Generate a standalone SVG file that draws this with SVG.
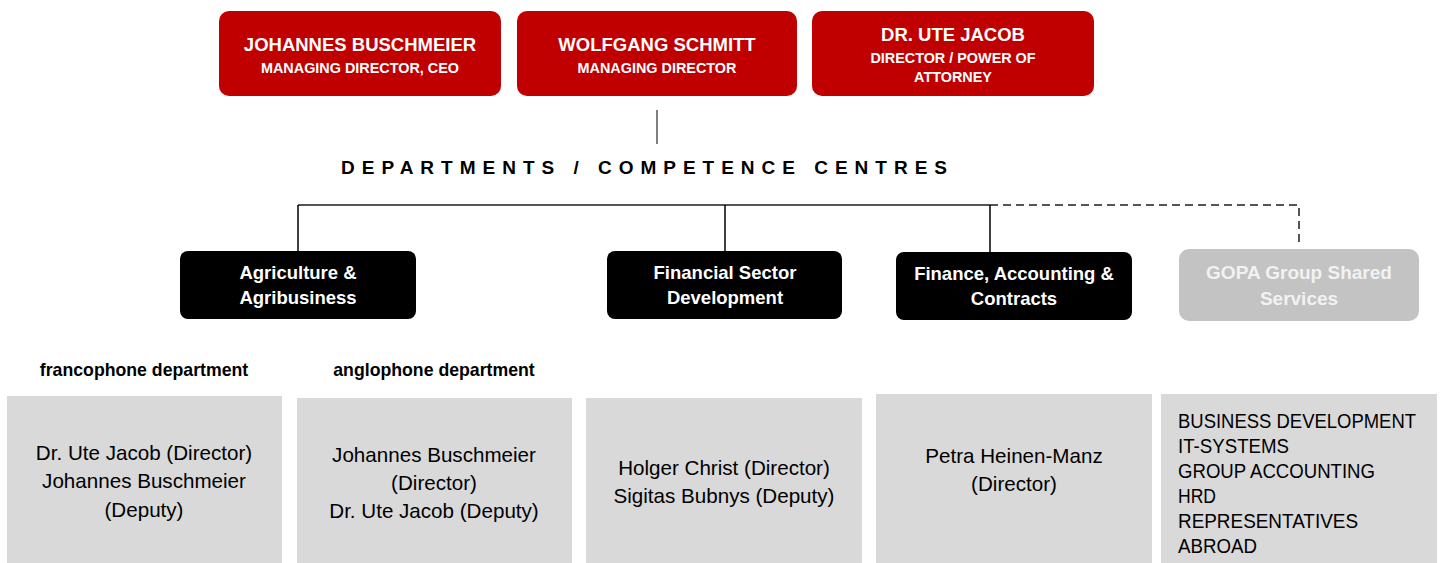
<svg xmlns="http://www.w3.org/2000/svg" width="1442" height="563" viewBox="0 0 1442 563">
  <style>
    text { font-family: "Liberation Sans", Arial, sans-serif; text-anchor: middle; }
    .mgmt rect { fill: #c00000; }
    .mgmt text { fill: #ffffff; font-weight: bold; }
    .name { font-size: 18.5px; }
    .role { font-size: 14.4px; }
    .dept rect { fill: #000000; }
    .dept text { fill: #ffffff; font-weight: bold; font-size: 18.5px; }
    .shared rect { fill: #c3c3c3; }
    .shared text { fill: #f2f2f2; font-weight: bold; font-size: 19px; }
    .unit rect { fill: #d9d9d9; }
    .unit text { fill: #000000; font-size: 20.6px; }
    .unit text.list { text-anchor: start; font-size: 20px; }
    .caption { font-weight: bold; font-size: 17.7px; fill: #000000; }
    .title { font-weight: bold; font-size: 19px; fill: #000000; text-anchor: start; }
    .solid { stroke: #000000; stroke-width: 1.5; fill: none; }
    .bus { stroke: #555555; stroke-width: 2; fill: none; }
    .dash { stroke: #555555; stroke-width: 2; stroke-dasharray: 8 5; fill: none; }
  </style>

  <rect width="1442" height="563" fill="#ffffff"/>

  <!-- management board -->
  <g id="ceo" class="mgmt">
    <rect x="219" y="11" width="282" height="85" rx="10"/>
    <text x="360" y="51" class="name">JOHANNES BUSCHMEIER</text>
    <text x="360" y="73" class="role">MANAGING DIRECTOR, CEO</text>
  </g>
  <g id="md" class="mgmt">
    <rect x="517" y="11" width="280" height="85" rx="10"/>
    <text x="657" y="51" class="name">WOLFGANG SCHMITT</text>
    <text x="657" y="73" class="role">MANAGING DIRECTOR</text>
  </g>
  <g id="director" class="mgmt">
    <rect x="812" y="11" width="282" height="85" rx="10"/>
    <text x="953" y="41" class="name">DR. UTE JACOB</text>
    <text x="953" y="63" class="role">DIRECTOR / POWER OF</text>
    <text x="953" y="82" class="role">ATTORNEY</text>
  </g>

  <!-- connectors -->
  <g id="connectors">
    <line x1="657" y1="110" x2="657" y2="144" stroke="#555555" stroke-width="1.5"/>
    <line x1="298" y1="205" x2="990" y2="205" class="bus"/>
    <polyline points="990,205 1299,205 1299,247" class="dash"/>
    <line x1="298" y1="205" x2="298" y2="251" class="solid"/>
    <line x1="725" y1="205" x2="725" y2="251" class="solid"/>
    <line x1="990" y1="205" x2="990" y2="252" class="solid"/>
  </g>

  <text x="341" y="174" class="title" textLength="606" lengthAdjust="spacing">DEPARTMENTS / COMPETENCE CENTRES</text>

  <!-- departments -->
  <g id="agri" class="dept">
    <rect x="180" y="251" width="236" height="68" rx="8"/>
    <text x="298" y="279">Agriculture &amp;</text>
    <text x="298" y="304">Agribusiness</text>
  </g>
  <g id="fsd" class="dept">
    <rect x="607" y="251" width="235" height="68" rx="8"/>
    <text x="725" y="279">Financial Sector</text>
    <text x="725" y="304">Development</text>
  </g>
  <g id="fac" class="dept">
    <rect x="896" y="252" width="236" height="68" rx="8"/>
    <text x="1014" y="280">Finance, Accounting &amp;</text>
    <text x="1014" y="305">Contracts</text>
  </g>
  <g id="shared" class="shared">
    <rect x="1179" y="249" width="240" height="72" rx="10"/>
    <text x="1299" y="279">GOPA Group Shared</text>
    <text x="1299" y="305">Services</text>
  </g>

  <text x="144" y="376" class="caption">francophone department</text>
  <text x="434" y="376" class="caption">anglophone department</text>

  <!-- units -->
  <g id="franco" class="unit">
    <rect x="7" y="396" width="275" height="167"/>
    <text x="144" y="460">Dr. Ute Jacob (Director)</text>
    <text x="144" y="488">Johannes Buschmeier</text>
    <text x="144" y="517">(Deputy)</text>
  </g>
  <g id="anglo" class="unit">
    <rect x="297" y="398" width="275" height="165"/>
    <text x="434" y="462">Johannes Buschmeier</text>
    <text x="434" y="490">(Director)</text>
    <text x="434" y="518">Dr. Ute Jacob (Deputy)</text>
  </g>
  <g id="fsd-staff" class="unit">
    <rect x="586" y="398" width="276" height="165"/>
    <text x="724" y="475">Holger Christ (Director)</text>
    <text x="724" y="503">Sigitas Bubnys (Deputy)</text>
  </g>
  <g id="fac-staff" class="unit">
    <rect x="876" y="394" width="276" height="169"/>
    <text x="1014" y="463">Petra Heinen-Manz</text>
    <text x="1014" y="491">(Director)</text>
  </g>
  <g id="shared-services" class="unit">
    <rect x="1161" y="394" width="276" height="169"/>
    <text x="1178" y="428" class="list" textLength="238" lengthAdjust="spacingAndGlyphs">BUSINESS DEVELOPMENT</text>
    <text x="1178" y="453" class="list" textLength="111" lengthAdjust="spacingAndGlyphs">IT-SYSTEMS</text>
    <text x="1178" y="478" class="list" textLength="197" lengthAdjust="spacingAndGlyphs">GROUP ACCOUNTING</text>
    <text x="1178" y="503" class="list" textLength="38" lengthAdjust="spacingAndGlyphs">HRD</text>
    <text x="1178" y="528" class="list" textLength="180" lengthAdjust="spacingAndGlyphs">REPRESENTATIVES</text>
    <text x="1178" y="553" class="list" textLength="79" lengthAdjust="spacingAndGlyphs">ABROAD</text>
  </g>
</svg>
